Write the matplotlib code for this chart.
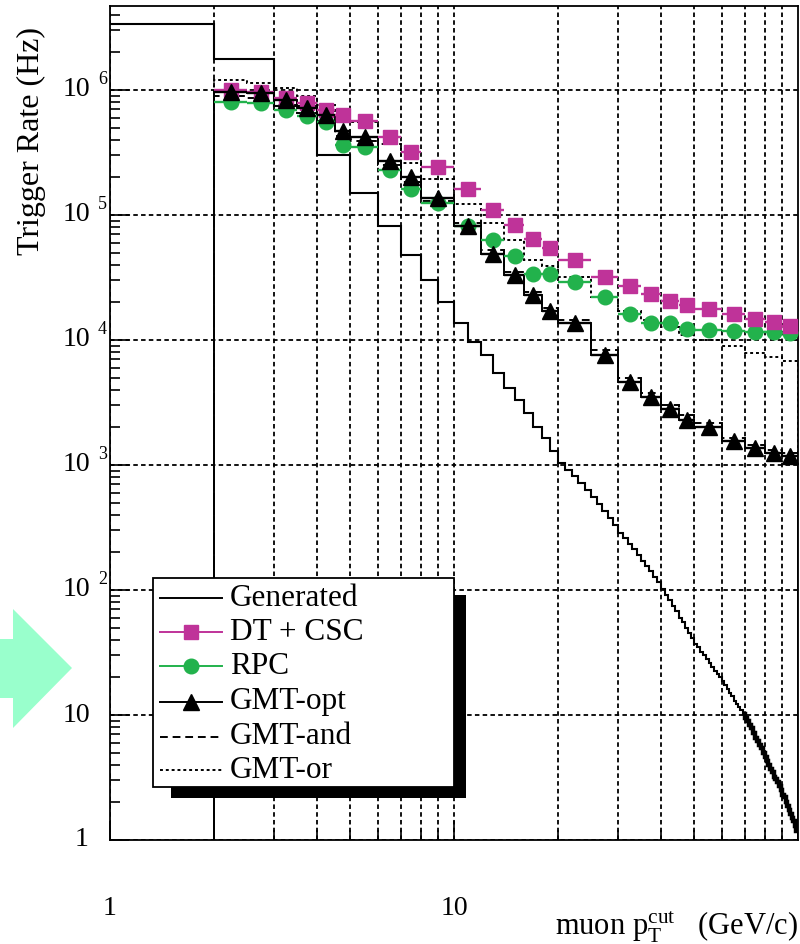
import numpy as np
import matplotlib
matplotlib.use('Agg')
import matplotlib.pyplot as plt
from matplotlib.patches import Rectangle, Polygon
from matplotlib.lines import Line2D
from matplotlib.ticker import LogLocator, NullFormatter, FixedLocator
import matplotlib.transforms as mtransforms

plt.rcParams['font.family'] = ['Liberation Serif', 'DejaVu Serif']
plt.rcParams['mathtext.fontset'] = 'custom'
plt.rcParams['mathtext.rm'] = 'Liberation Serif'
plt.rcParams['mathtext.it'] = 'Liberation Serif:italic'

# ---------------- data ----------------
bin_edges = [2, 2.5, 3, 3.5, 4, 4.5, 5, 6, 7, 8, 10, 12, 14, 16, 18, 20,
             25, 30, 35, 40, 45, 50, 60, 70, 80, 90, 100]
dt_csc = [1.0e6, 9.7e5, 8.7e5, 7.9e5, 6.9e5, 6.3e5, 5.6e5, 4.2e5, 3.2e5, 2.4e5,
          1.6e5, 1.1e5, 8.3e4, 6.4e4, 5.4e4, 4.4e4, 3.2e4, 2.7e4, 2.35e4, 2.05e4,
          1.9e4, 1.78e4, 1.62e4, 1.47e4, 1.4e4, 1.3e4]
rpc = [8.0e5, 7.9e5, 6.9e5, 6.2e5, 5.5e5, 3.6e5, 3.5e5, 2.3e5, 1.6e5, 1.25e5,
       8.1e4, 6.3e4, 4.7e4, 3.4e4, 3.4e4, 2.9e4, 2.2e4, 1.6e4, 1.36e4, 1.37e4,
       1.23e4, 1.2e4, 1.17e4, 1.15e4, 1.15e4, 1.14e4]
gmt_opt = [9.7e5, 9.4e5, 8.3e5, 7.2e5, 6.3e5, 4.7e5, 4.2e5, 2.7e5, 2.0e5, 1.37e5,
           8.1e4, 4.9e4, 3.3e4, 2.3e4, 1.7e4, 1.37e4, 7.6e3, 4.6e3, 3.5e3, 2.8e3,
           2.3e3, 2.0e3, 1.55e3, 1.37e3, 1.25e3, 1.18e3]
gmt_and = [8.9e5, 8.6e5, 7.6e5, 6.6e5, 5.6e5, 4.3e5, 3.9e5, 2.5e5, 1.85e5, 1.3e5,
           8.6e4, 5.2e4, 3.5e4, 2.4e4, 1.8e4, 1.45e4, 8.3e3, 5.0e3, 3.8e3, 3.0e3,
           2.5e3, 2.15e3, 1.65e3, 1.45e3, 1.32e3, 1.25e3]
gmt_or = [1.2e6, 1.13e6, 1.03e6, 9.0e5, 7.6e5, 6.0e5, 5.5e5, 3.7e5, 2.6e5, 1.95e5,
          1.23e5, 8.6e4, 6.3e4, 4.4e4, 3.9e4, 3.2e4, 2.2e4, 1.7e4, 1.45e4, 1.26e4,
          1.1e4, 1.0e4, 8.9e3, 7.9e3, 7.3e3, 6.8e3]
gen_edges = list(range(1, 101))
generated = [3.4e6, 1.78e6, 7.4e5, 3.0e5, 1.5e5, 8.1e4, 4.8e4, 3.0e4, 2.0e4,
             1.37e4, 9.7e3, 7.6e3, 5.4e3, 4.1e3, 3.3e3, 2.6e3, 2.0e3, 1.65e3, 1.3e3,
             1047, 912, 813, 724, 631, 550, 490, 427, 380, 331,
             288, 263, 234, 214, 191, 170, 155, 141, 126, 115,
             102, 91, 83, 74, 68, 60, 55, 50, 45, 41,
             37, 35, 32, 30, 28, 26, 24, 22.4, 21.4, 20,
             18.6, 17.4, 16.2, 15.1, 14.1, 12.9, 12.3, 11.5, 11.0, 10.2,
             9.5, 8.9, 8.3, 7.8, 7.2, 6.6, 6.2, 5.8, 5.4, 5.0,
             4.6, 4.3, 4.0, 3.7, 3.5, 3.2, 3.1, 2.9, 2.7, 2.5,
             2.3, 2.2, 2.0, 1.86, 1.74, 1.62, 1.51, 1.41, 1.29, 1.17]
legend_labels = ['Generated', 'DT + CSC', 'RPC', 'GMT-opt', 'GMT-and', 'GMT-or']
y_decades = [1, 10, 100, 1e3, 1e4, 1e5, 1e6]
x_tick_labels = ['1', '10']

MAGENTA = '#bf3399'
GREEN = '#22b24c'

# ---------------- figure ----------------
W, H = 800, 944
fig = plt.figure(figsize=(W / 100, H / 100), dpi=100)
ax = fig.add_axes([110 / W, (H - 840) / H, 688 / W, (840 - 6) / H])
ax.set_xscale('log')
ax.set_yscale('log')
ax.set_xlim(1, 100)
ax.set_ylim(1, 10 ** ((840 - 6) / 125.0))

grid_kw = dict(color='black', linewidth=1.3, linestyle=(0, (2.5, 1.8)))
ax.xaxis.set_minor_locator(LogLocator(base=10, subs=np.arange(2, 10), numticks=50))
ax.yaxis.set_minor_locator(LogLocator(base=10, subs=np.arange(2, 10), numticks=100))
ax.yaxis.set_major_locator(FixedLocator(y_decades))
ax.grid(True, which='both', axis='x', **grid_kw)
ax.grid(True, which='major', axis='y', **grid_kw)
ax.set_axisbelow(True)

for s in ax.spines.values():
    s.set_linewidth(1.3)

ax.tick_params(which='both', direction='in', top=False, right=False, width=1.2)
ax.tick_params(which='major', length=14)
ax.tick_params(which='minor', length=7)
ax.yaxis.set_major_formatter(NullFormatter())
ax.yaxis.set_minor_formatter(NullFormatter())
ax.xaxis.set_minor_formatter(NullFormatter())
ax.set_xticks([1, 10])
ax.set_xticklabels(x_tick_labels, fontsize=20)
ax.tick_params(axis='x', which='major', pad=40)

# generated histogram (the high-pT tail is drawn heavier, as in the original's dense fine binning)
ax.stairs(generated, gen_edges, baseline=None, color='black', linewidth=1.5, zorder=3)
ax.stairs(generated[68:], gen_edges[68:], baseline=None, color='black', linewidth=3.2, zorder=3)
# GMT-or dotted, GMT-and dashed, GMT-opt solid stairs
ax.stairs(gmt_or, bin_edges, baseline=1e-3, color='black', linewidth=1.4,
          linestyle=(0, (1.5, 1.5)), zorder=3)
ax.stairs(gmt_and, bin_edges, baseline=1e-3, color='black', linewidth=1.4,
          linestyle=(0, (4, 2.5)), zorder=3)
ax.stairs(gmt_opt, bin_edges, baseline=1e-3, color='black', linewidth=1.4, zorder=3)

e = np.array(bin_edges)
centers = (e[:-1] + e[1:]) / 2
xerr = [centers - e[:-1], e[1:] - centers]
ax.errorbar(centers, rpc, xerr=xerr, fmt='o', color=GREEN, ms=10.5, elinewidth=1.7,
            capsize=0, zorder=4)
ax.errorbar(centers, dt_csc, xerr=xerr, fmt='s', color=MAGENTA, ms=10, elinewidth=1.7,
            capsize=0, zorder=5)
ax.errorbar(centers, gmt_opt, xerr=xerr, fmt='^', color='black', ms=11, elinewidth=1.7,
            capsize=0, zorder=6)

# y tick labels (ROOT-like: "10" aligned, exponent sticking out)
ytrans = ax.get_yaxis_transform()
sup_trans = mtransforms.offset_copy(ytrans, fig=fig, x=0, y=10, units='dots')
x_main = (90 - 110) / 688
x_sup = (98 - 110) / 688
for d in y_decades:
    n = int(round(np.log10(d)))
    if n == 0:
        ax.text((88 - 110) / 688, d, '1', transform=ytrans, ha='right', va='center',
                fontsize=20, clip_on=False)
    else:
        ax.text(x_main, d, '10', transform=ytrans, ha='right', va='center',
                fontsize=20, clip_on=False)
        if n > 1:
            ax.text(x_sup, d, str(n), transform=sup_trans, ha='left', va='center',
                    fontsize=13, clip_on=False)

# axis titles
fig.text(31 / W, 1 - 141 / H, 'Trigger Rate (Hz)', rotation=90, ha='center',
         va='center', fontsize=23)
fig.text(798 / W, 1 - 927 / H, r'muon $\mathregular{p_{T}^{cut}}$   (GeV/c)',
         ha='right', va='center', fontsize=22)

# ---------------- overlay: legend and arrow (pixel coordinates) ----------------
ov = fig.add_axes([0, 0, 1, 1], zorder=10)
ov.set_xlim(0, W)
ov.set_ylim(H, 0)
ov.axis('off')

ov.add_patch(Polygon([(0, 639), (13, 639), (13, 609), (72, 668), (13, 728), (13, 698), (0, 698)],
                     closed=True, facecolor='#99ffcc', edgecolor='none'))

ov.add_patch(Rectangle((171, 595), 295, 203, facecolor='black', edgecolor='none'))
ov.add_patch(Rectangle((153, 578), 301, 209, facecolor='white', edgecolor='black',
                       linewidth=1.3))

rows_y = [598, 632, 666, 702, 737, 770]
styles = [
    dict(color='black', linestyle='-', marker=None),
    dict(color=MAGENTA, linestyle='-', marker='s', ms=10),
    dict(color=GREEN, linestyle='-', marker='o', ms=10.5),
    dict(color='black', linestyle='-', marker='^', ms=11),
    dict(color='black', linestyle=(0, (4, 2.5)), marker=None),
    dict(color='black', linestyle=(0, (1.5, 1.5)), marker=None),
]
for lab, yy, st in zip(legend_labels, rows_y, styles):
    ov.add_line(Line2D([160, 222], [yy, yy], color=st['color'], linestyle=st['linestyle'],
                       linewidth=1.4))
    if st['marker']:
        ov.add_line(Line2D([191], [yy], color=st['color'], marker=st['marker'],
                           ms=st['ms'], linestyle='none'))
    ov.text(230, yy, lab, ha='left', va='center', fontsize=22.5)

fig.savefig('out.png', dpi=100)
